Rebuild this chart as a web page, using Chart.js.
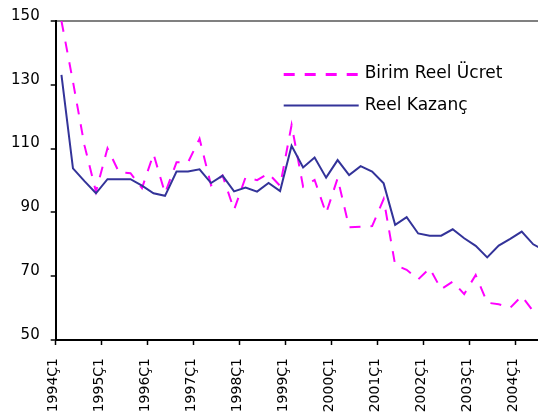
<!DOCTYPE html>
<html>
<head>
<meta charset="utf-8">
<script src="https://cdn.jsdelivr.net/npm/chart.js@4.4.1/dist/chart.umd.min.js"></script>
<style>
  html, body { margin: 0; padding: 0; background: #ffffff; }
  #wrap { width: 538px; height: 419px; overflow: hidden; position: relative; background: #ffffff; }
  #c { display: block; }
</style>
</head>
<body>
<div id="wrap"><canvas id="c" width="566" height="419"></canvas></div>
<script>
// Quarterly categories (1994Ç1 .. 2004Ç4)
const categories = [
  "1994Ç1","1994Ç2","1994Ç3","1994Ç4",
  "1995Ç1","1995Ç2","1995Ç3","1995Ç4",
  "1996Ç1","1996Ç2","1996Ç3","1996Ç4",
  "1997Ç1","1997Ç2","1997Ç3","1997Ç4",
  "1998Ç1","1998Ç2","1998Ç3","1998Ç4",
  "1999Ç1","1999Ç2","1999Ç3","1999Ç4",
  "2000Ç1","2000Ç2","2000Ç3","2000Ç4",
  "2001Ç1","2001Ç2","2001Ç3","2001Ç4",
  "2002Ç1","2002Ç2","2002Ç3","2002Ç4",
  "2003Ç1","2003Ç2","2003Ç3","2003Ç4",
  "2004Ç1","2004Ç2","2004Ç3","2004Ç4"
];

// Series: Birim Reel Ücret (dashed magenta)
const birimReelUcret = [
  150, 131, 111, 96.5,
  110.1, 102.6, 102.3, 97.6,
  108.3, 96, 105.7, 105.7,
  113.1, 98.5, 101.6, 90.8,
  101, 100.1, 102.2, 98.3,
  117.4, 98.1, 100.2, 89.7,
  100.7, 85.3, 85.5, 85.7,
  94.2, 73.5, 72, 69,
  72.5, 65.9, 68.3, 64.4,
  70.4, 61.7, 61.2, 60.1,
  63.8, 59, 56, 55
];

// Series: Reel Kazanç (solid navy)
const reelKazanc = [
  133.1, 103.8, 99.8, 96.0,
  100.4, 100.4, 100.4, 98.4,
  96.0, 95.2, 102.8, 102.8,
  103.5, 99.2, 101.5, 96.6,
  97.8, 96.5, 99.2, 96.7,
  110.9, 104.1, 107.2, 100.9,
  106.4, 101.7, 104.5, 102.8,
  99.1, 86.1, 88.5, 83.4,
  82.7, 82.7, 84.7, 81.9,
  79.5, 75.9, 79.6, 81.7,
  84.0, 80, 78, 77
];

const seriesLabels = ["Birim Reel Ücret", "Reel Kazanç"];
const yTicks = [50, 70, 90, 110, 130, 150];

const legendPlugin = {
  id: 'insideLegend',
  afterDraw(chart) {
    const ctx = chart.ctx;
    const area = chart.chartArea;
    const x0 = area.left + 228, x1 = area.left + 303, tx = area.left + 309;
    const rows = [
      { lineY: area.top + 53.5, textY: area.top + 56.7, w: 3 },
      { lineY: area.top + 84.5, textY: area.top + 89, w: 2 }
    ];
    chart.data.datasets.forEach((ds, i) => {
      const r = rows[i];
      ctx.save();
      ctx.strokeStyle = ds.borderColor;
      ctx.lineWidth = r.w;
      ctx.setLineDash(ds.borderDash || []);
      ctx.beginPath();
      ctx.moveTo(x0, r.lineY);
      ctx.lineTo(x1, r.lineY);
      ctx.stroke();
      ctx.setLineDash([]);
      ctx.fillStyle = '#000000';
      ctx.font = '17px "DejaVu Sans"';
      ctx.textBaseline = 'alphabetic';
      ctx.textAlign = 'left';
      ctx.fillText(ds.label, tx, r.textY);
      ctx.restore();
    });
  }
};

new Chart(document.getElementById('c'), {
  type: 'line',
  data: {
    labels: categories,
    datasets: [
      {
        label: seriesLabels[0],
        data: birimReelUcret,
        borderColor: '#FF00FF',
        borderWidth: 2,
        borderDash: [11, 10],
        pointRadius: 0,
        tension: 0,
        fill: false,
        order: 2
      },
      {
        label: seriesLabels[1],
        data: reelKazanc,
        borderColor: '#333399',
        borderWidth: 2,
        pointRadius: 0,
        tension: 0,
        fill: false,
        order: 1
      }
    ]
  },
  options: {
    responsive: false,
    animation: false,
    devicePixelRatio: 1,
    layout: { padding: { top: 21, left: 11, right: 4, bottom: 7 } },
    plugins: { legend: { display: false }, tooltip: { enabled: false } },
    scales: {
      x: {
        offset: true,
        afterFit: (a) => { a.height = 72; a.paddingLeft = 0; a.paddingRight = 0; },
        grid: {
          offset: true,
          drawOnChartArea: false,
          tickLength: 5,
          tickWidth: 1.5,
          tickColor: (c) => (c.index % 4 === 0 ? '#000000' : 'rgba(0,0,0,0)')
        },
        border: { color: '#000000', width: 2 },
        ticks: {
          autoSkip: false,
          minRotation: 90,
          maxRotation: 90,
          labelOffset: -8.5,
          padding: 13,
          color: '#000000',
          font: { family: 'DejaVu Sans', size: 14 },
          callback: function (v, i) {
            const lab = categories[i];
            return lab.endsWith('Ç1') ? lab : '';
          }
        }
      },
      y: {
        min: 50,
        max: 150,
        afterFit: (a) => { a.width = 44.7; a.paddingTop = 0; a.paddingBottom = 0; },
        afterBuildTicks: (axis) => { axis.ticks = yTicks.map(v => ({ value: v })); },
        grid: {
          color: (c) => (c.tick && c.tick.value === 150 ? '#808080' : 'rgba(0,0,0,0)'),
          lineWidth: 2,
          tickColor: '#000000',
          tickLength: 5,
          tickWidth: 1.5
        },
        border: { color: '#000000', width: 2 },
        ticks: {
          padding: 11,
          labelOffset: -5,
          color: '#000000',
          font: { family: 'DejaVu Sans', size: 15 }
        }
      }
    }
  },
  plugins: [legendPlugin]
});
</script>
</body>
</html>
